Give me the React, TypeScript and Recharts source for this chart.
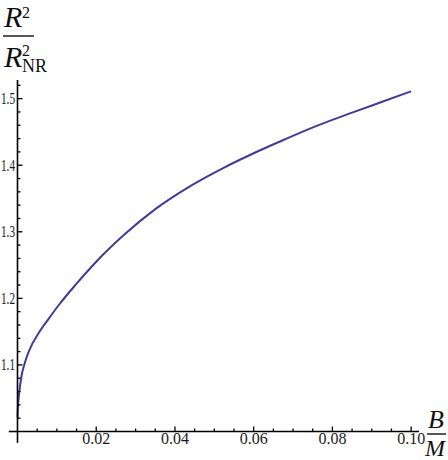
import { Line, LineChart, ReferenceLine, XAxis, YAxis } from "recharts";

// B/M values and R^2 / R^2_NR
const ratio = [0, 0.0001, 0.0004, 0.001, 0.0017, 0.003, 0.0055, 0.008, 0.0105, 0.015, 0.02, 0.027, 0.035, 0.044, 0.052, 0.06, 0.068, 0.076, 0.085, 0.093, 0.1];
const radius = [1.021, 1.036, 1.056, 1.083, 1.1, 1.122, 1.149, 1.17, 1.19, 1.222, 1.255, 1.295, 1.334, 1.369, 1.395, 1.418, 1.439, 1.459, 1.479, 1.496, 1.511];

const xTicks = [0.005, 0.01, 0.015, 0.02, 0.025, 0.03, 0.035, 0.04, 0.045, 0.05, 0.055, 0.06, 0.065, 0.07, 0.075, 0.08, 0.085, 0.09, 0.095, 0.1];
const xMajor = [0.02, 0.04, 0.06, 0.08, 0.1];
const xLabels = ["0.02", "0.04", "0.06", "0.08", "0.10"];

const yTicks = [1.02, 1.04, 1.06, 1.08, 1.1, 1.12, 1.14, 1.16, 1.18, 1.2, 1.22, 1.24, 1.26, 1.28, 1.3, 1.32, 1.34, 1.36, 1.38, 1.4, 1.42, 1.44, 1.46, 1.48, 1.5, 1.52];
const yMajor = [1.1, 1.2, 1.3, 1.4, 1.5];
const yLabels = ["1.1", "1.2", "1.3", "1.4", "1.5"];

const data = ratio.map((r, i) => ({ r, v: radius[i] }));

const FONT = "'Liberation Serif', 'Times New Roman', serif";
const CURVE = "#3d3d99";

function findMajor(list: number[], v: number) {
  return list.findIndex((m) => Math.abs(m - v) < 1e-9);
}

function XTick(props: any) {
  const { x, y, payload } = props;
  const idx = findMajor(xMajor, payload.value);
  const len = idx >= 0 ? 5 : 3;
  return (
    <g>
      <line x1={x} x2={x} y1={y} y2={y - len} stroke="#000" strokeWidth={1.3} />
      {idx >= 0 ? (
        <text x={x} y={y + 12} textAnchor="middle" fontFamily={FONT} fontSize={16} fill="#1a1a1a">
          {xLabels[idx]}
        </text>
      ) : null}
    </g>
  );
}

function YTick(props: any) {
  const { x, y, payload } = props;
  const idx = findMajor(yMajor, payload.value);
  const len = idx >= 0 ? 5 : 3;
  return (
    <g>
      <line x1={x} x2={x + len} y1={y} y2={y} stroke="#000" strokeWidth={1.3} />
      {idx >= 0 ? (
        <text
          x={x - 16.5}
          y={y + 5.5}
          textLength={14}
          lengthAdjust="spacingAndGlyphs"
          fontFamily={FONT}
          fontSize={16}
          fill="#1a1a1a"
        >
          {yLabels[idx]}
        </text>
      ) : null}
    </g>
  );
}

export default function App() {
  return (
    <div style={{ position: "relative", width: 448, height: 460, background: "#fff" }}>
      <style>{"body{margin:0}"}</style>
      <LineChart width={448} height={460} data={data} margin={{ top: 80, right: 29, bottom: 27.5, left: 16.5 }}>
        <XAxis
          type="number"
          dataKey="r"
          domain={[0, 0.102]}
          ticks={xTicks}
          interval={0}
          height={1}
          tickSize={0}
          tickMargin={0}
          tickLine={false}
          axisLine={{ stroke: "#000", strokeWidth: 1.6 }}
          tick={<XTick />}
        />
        <YAxis
          type="number"
          domain={[1, 1.528]}
          ticks={yTicks}
          interval={0}
          width={1}
          tickSize={0}
          tickMargin={0}
          tickLine={false}
          axisLine={{ stroke: "#000", strokeWidth: 1.6 }}
          tick={<YTick />}
        />
        <ReferenceLine
          segment={[{ x: -0.0022, y: 1 }, { x: 0, y: 1 }]}
          ifOverflow="visible"
          stroke="#000"
          strokeWidth={1.6}
        />
        <ReferenceLine
          segment={[{ x: 0, y: 0.983 }, { x: 0, y: 1 }]}
          ifOverflow="visible"
          stroke="#000"
          strokeWidth={1.6}
        />
        <Line
          type="monotone"
          dataKey="v"
          stroke={CURVE}
          strokeWidth={2}
          dot={false}
          isAnimationActive={false}
        />
      </LineChart>
      <svg width={448} height={460} style={{ position: "absolute", left: 0, top: 0, pointerEvents: "none" }}>
        <text x={4} y={27} fontFamily={FONT} fontSize={30} fill="#111">
          <tspan fontStyle="italic">R</tspan>
          <tspan x={22} y={18} fontSize={16}>2</tspan>
        </text>
        <line x1={3} x2={34} y1={36} y2={36} stroke="#111" strokeWidth={1.4} />
        <text x={4} y={67} fontFamily={FONT} fontSize={30} fill="#111">
          <tspan fontStyle="italic">R</tspan>
          <tspan x={22} y={56} fontSize={16}>2</tspan>
          <tspan x={22} y={72} fontSize={18}>NR</tspan>
        </text>
        <text x={436} y={428} textAnchor="middle" fontFamily={FONT} fontSize={26} fontStyle="italic" fill="#111">
          B
        </text>
        <line x1={427} x2={446} y1={434} y2={434} stroke="#111" strokeWidth={1.4} />
        <text x={435} y={456} textAnchor="middle" fontFamily={FONT} fontSize={24} fontStyle="italic" fill="#111">
          M
        </text>
      </svg>
    </div>
  );
}
